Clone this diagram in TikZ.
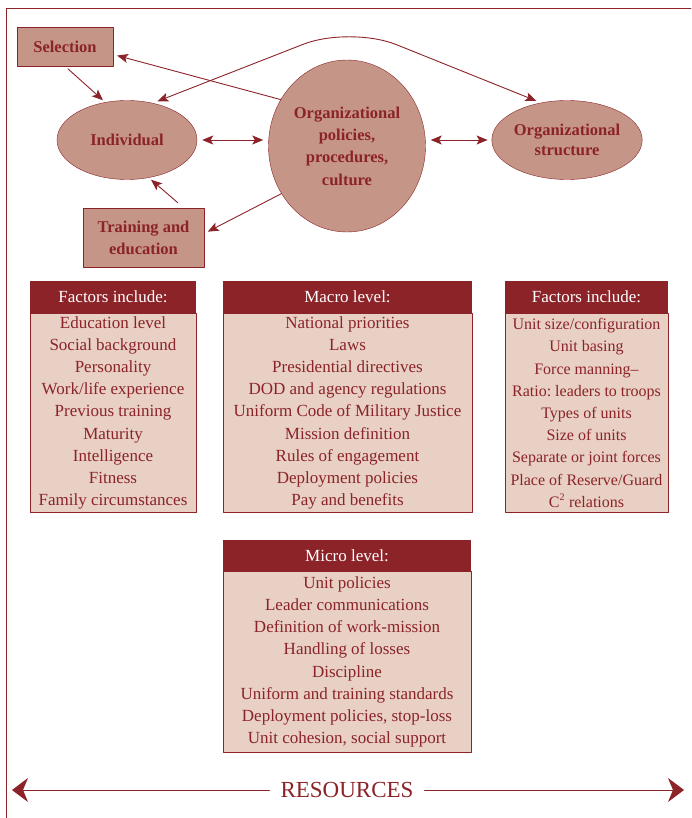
\documentclass[tikz,border=0pt]{standalone}
\usepackage{fontspec}
\setmainfont{Liberation Serif}
\usepackage{tikz}
\usetikzlibrary{arrows.meta,shapes.geometric,positioning}
\definecolor{ttqqqq}{rgb}{0.545,0.137,0.157}
\definecolor{ccwwtt}{rgb}{0.773,0.588,0.533}
\definecolor{eeddcc}{rgb}{0.910,0.816,0.769}
\frenchspacing

\begin{document}
\begin{tikzpicture}[line cap=round,line join=round,x=1pt,y=-1pt,
  >={Stealth[length=11pt,width=9pt,inset=2.5pt]},
  every node/.style={text=ttqqqq,font=\fontsize{17}{22.2}\selectfont},
  ell/.style={ellipse,draw=ttqqqq,fill=ccwwtt,inner sep=0pt,align=center,font=\fontsize{16.5}{20}\selectfont\bfseries},
  box/.style={rectangle,draw=ttqqqq,fill=ccwwtt,inner sep=0pt,align=center,font=\fontsize{16.5}{22}\selectfont\bfseries},
  head/.style={rectangle,fill=ttqqqq,text=white,inner sep=0pt,minimum height=32pt},
  body/.style={rectangle,draw=ttqqqq,fill=eeddcc,inner sep=0pt,align=center,anchor=north},
  link/.style={draw=ttqqqq,line width=0.9pt}]
\useasboundingbox (0,0) rectangle (691,818);
\draw [ttqqqq,line width=0.8pt] (6,818) -- (6,8) -- (691,8);
% top part
\node [box,minimum width=96pt,minimum height=39pt] (sel) at (65,46.5) {Selection};
\node [box,minimum width=121pt,minimum height=59pt] (trn) at (143.5,237.5) {Training and\\education};
\node [ell,minimum width=140pt,minimum height=79pt] (ind) at (127,140) {Individual};
\node [ell,minimum width=157pt,minimum height=172pt,font=\fontsize{16.5}{22.3}\selectfont\bfseries] (org) at (347,146) {Organizational\\policies,\\procedures,\\culture};
\node [ell,minimum width=140pt,minimum height=79pt] (str) at (567,140) {Organizational\\structure};
\draw [link,->,shorten <=4pt,shorten >=3pt] (sel.south) -- (ind.120);
\draw [link,->,shorten <=3pt,shorten >=3pt] ([xshift=-24pt,yshift=3pt]trn.north east) -- (ind.-60);
\draw [link,<->,shorten <=5pt,shorten >=5pt] (ind.east) -- (ind.east -| org.west);
\draw [link,<->,shorten <=5pt,shorten >=4pt] (str.west -| org.east) -- (str.west);
\draw [link,->,shorten >=4pt] (org.145) -- ([yshift=-8pt]sel.east);
\draw [link,->,shorten >=4pt] (org.216) -- ([yshift=4pt]trn.east);
\draw [link,<->,rounded corners=50pt,shorten <=5pt,shorten >=5pt] (ind.55) -- (350,26) -- (str.125);
% factor boxes
\node [head,minimum width=166pt] (fh1) at (113,297) {Factors include:};
\node [body,minimum width=166pt,minimum height=199pt] (fb1) at (fh1.south) {Education level\\Social background\\Personality\\Work/life experience\\Previous training\\Maturity\\Intelligence\\Fitness\\Family circumstances};
\node [head,minimum width=249pt] (mh) at (347.5,297) {Macro level:};
\node [body,minimum width=249pt,minimum height=199pt] (mb) at (mh.south) {National priorities\\Laws\\Presidential directives\\DOD and agency regulations\\Uniform Code of Military Justice\\Mission definition\\Rules of engagement\\Deployment policies\\Pay and benefits};
\node [head,minimum width=163pt] (fh3) at (586.5,297) {Factors include:};
\node [body,minimum width=163pt,minimum height=199pt,font=\fontsize{16}{22.2}\selectfont] (fb3) at (fh3.south) {Unit size/configuration\\Unit basing\\Force manning--\\Ratio: leaders to troops\\Types of units\\Size of units\\Separate or joint forces\\Place of Reserve/Guard\\C\textsuperscript{\fontsize{10}{10}\selectfont 2} relations};
\node [head,minimum width=248pt,minimum height=31pt] (uh) at (347,555.5) {Micro level:};
\node [body,minimum width=248pt,minimum height=181pt] (ub) at (uh.south) {Unit policies\\Leader communications\\Definition of work-mission\\Handling of losses\\Discipline\\Uniform and training standards\\Deployment policies, stop-loss\\Unit cohesion, social support};
% resources
\node [font=\fontsize{23}{26}\selectfont,inner xsep=11pt] (res) at (347,790) {RESOURCES};
\coordinate (rl) at (12,790);
\coordinate (rr) at (684,790);
\draw [link,-{Stealth[length=16pt,width=24pt,inset=5pt]}] (res.west) -- (rl);
\draw [link,-{Stealth[length=16pt,width=24pt,inset=5pt]}] (res.east) -- (rr);
\end{tikzpicture}
\end{document}
